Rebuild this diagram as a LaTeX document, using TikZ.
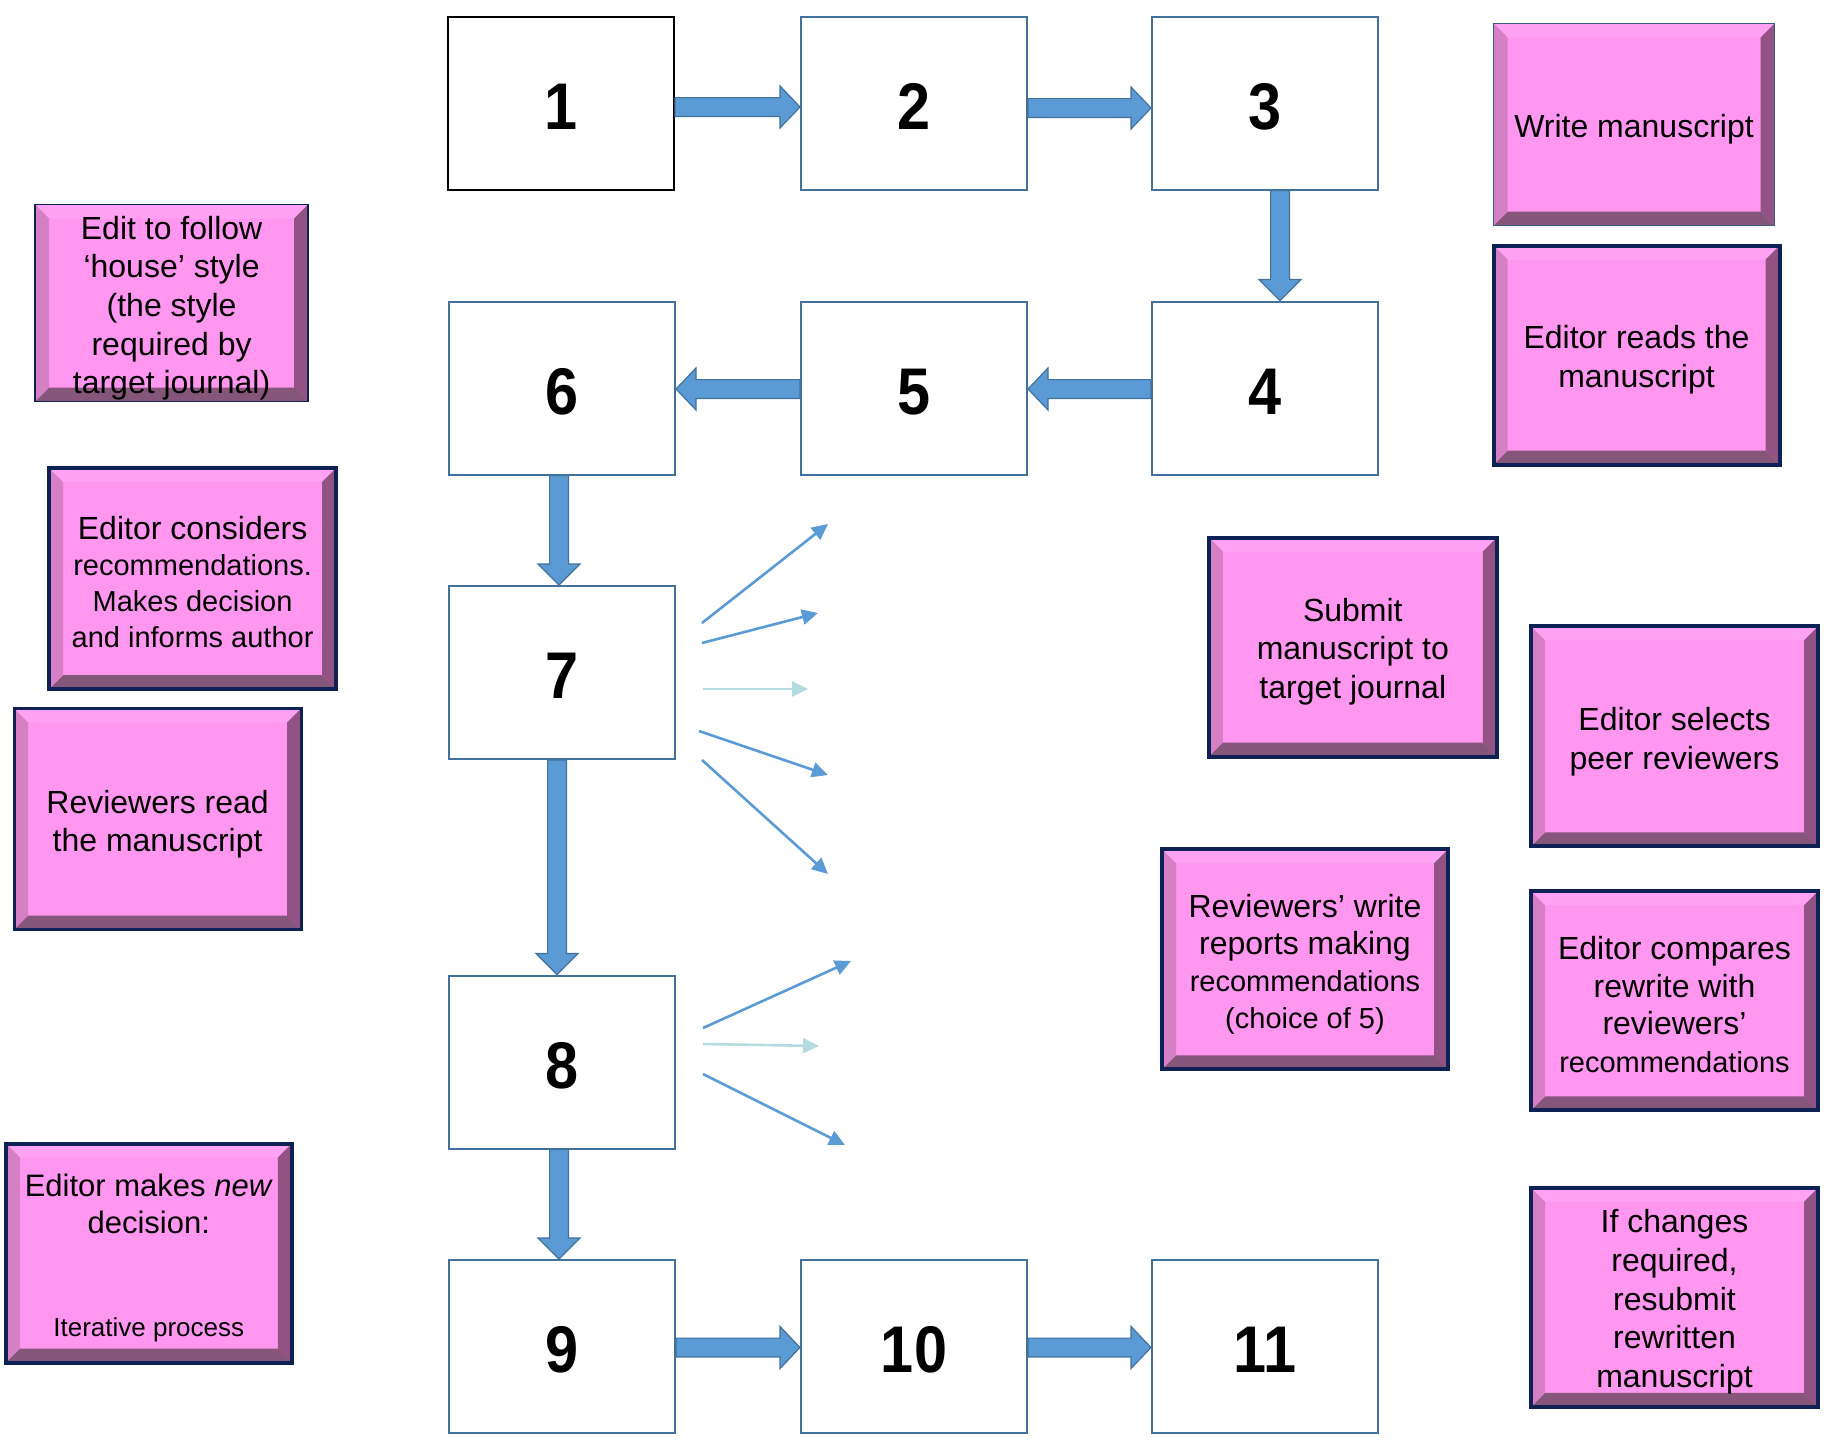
\documentclass[tikz,border=0pt]{standalone}
\usepackage{fontspec}
\setmainfont{Liberation Sans}
\newfontfamily\digitfont{Liberation Sans}[FakeStretch=0.9]
\usetikzlibrary{arrows.meta,calc}

% palette
\definecolor{stepedge}{HTML}{41719C}
\definecolor{flowfill}{HTML}{5B9BD5}
\definecolor{flowedge}{HTML}{41719C}
\definecolor{paleflow}{HTML}{B4DCE0}
\definecolor{pinkface}{HTML}{FF96F0}
\definecolor{pinktop}{HTML}{FFA2F3}
\definecolor{pinkleft}{HTML}{D57FC4}
\definecolor{pinkright}{HTML}{935284}
\definecolor{pinkbottom}{HTML}{86557A}
\definecolor{navyrim}{HTML}{0E2154}
\definecolor{greyrim}{HTML}{3C5A88}

% a larger line inside a smaller-type card
\newcommand\Lline[1]{{\fontsize{16}{19}\selectfont #1}}

% block arrows between numbered steps (from, to, offset in px)
\newcommand\flowright[3]{%
  \path[flow] let \p1=($(#1.east)+(0,#3)$), \p2=(#2.west) in
    (\x1,\y1+4.7pt) -- (\x2-10pt,\y1+4.7pt) -- (\x2-10pt,\y1+10.5pt) -- (\x2,\y1)
    -- (\x2-10pt,\y1-10.5pt) -- (\x2-10pt,\y1-4.7pt) -- (\x1,\y1-4.7pt) -- cycle;}
\newcommand\flowleft[3]{%
  \path[flow] let \p1=($(#1.west)+(0,#3)$), \p2=(#2.east) in
    (\x1,\y1+4.7pt) -- (\x2+10pt,\y1+4.7pt) -- (\x2+10pt,\y1+10.5pt) -- (\x2,\y1)
    -- (\x2+10pt,\y1-10.5pt) -- (\x2+10pt,\y1-4.7pt) -- (\x1,\y1-4.7pt) -- cycle;}
\newcommand\flowdown[3]{%
  \path[flow] let \p1=($(#1.south)+(#3,0)$), \p2=(#2.north) in
    (\x1-4.7pt,\y1) -- (\x1-4.7pt,\y2+10.5pt) -- (\x1-10.5pt,\y2+10.5pt) -- (\x1,\y2)
    -- (\x1+10.5pt,\y2+10.5pt) -- (\x1+4.7pt,\y2+10.5pt) -- (\x1+4.7pt,\y1) -- cycle;}

\tikzset{
  stepbox/.style={draw=stepedge, line width=1pt, fill=white,
    minimum width=113pt, minimum height=86.5pt, inner sep=0pt,
    text height=26pt, text depth=0pt,
    font=\digitfont\fontsize{33}{36}\selectfont\bfseries},
  flow/.style={fill=flowfill, draw=flowedge, line width=0.6pt},
  fan/.style={draw=flowfill, line width=1.3pt, -{Triangle[length=8pt,width=7.5pt]}},
  palefan/.style={fan, draw=paleflow},
  bevelled/.style={path picture={
    \coordinate (q1) at (path picture bounding box.north west);
    \coordinate (q2) at (path picture bounding box.north east);
    \coordinate (q3) at (path picture bounding box.south east);
    \coordinate (q4) at (path picture bounding box.south west);
    \coordinate (i1) at ([xshift=7pt,yshift=-7pt]q1);
    \coordinate (i2) at ([xshift=-7pt,yshift=-7pt]q2);
    \coordinate (i3) at ([xshift=-7pt,yshift=7pt]q3);
    \coordinate (i4) at ([xshift=7pt,yshift=7pt]q4);
    \fill[pinktop] (q1) -- (q2) -- (i2) -- (i1) -- cycle;
    \fill[pinkright] (q2) -- (q3) -- (i3) -- (i2) -- cycle;
    \fill[pinkbottom] (q3) -- (q4) -- (i4) -- (i3) -- cycle;
    \fill[pinkleft] (q4) -- (q1) -- (i1) -- (i4) -- cycle;
  }},
  card/.style n args={3}{rectangle, bevelled, fill=pinkface, draw=navyrim,
    line width=#3, minimum width=#1*0.5pt, minimum height=#2*0.5pt,
    inner sep=0pt},
  cardtext/.style={align=center, text=black, inner sep=0pt,
    font=\fontsize{16}{19.3}\selectfont},
}

\begin{document}
\begin{tikzpicture}[x=0.5pt,y=-0.5pt]
\useasboundingbox (0,0) rectangle (1831,1440);

% numbered steps
\node[stepbox, draw=black] (s1) at (561,103) {1};
\node[stepbox] (s2) at (914,103) {2};
\node[stepbox] (s3) at (1265,103) {3};
\node[stepbox] (s4) at (1265,388) {4};
\node[stepbox] (s5) at (914,388) {5};
\node[stepbox] (s6) at (562,388) {6};
\node[stepbox] (s7) at (562,672.5) {7};
\node[stepbox] (s8) at (562,1062) {8};
\node[stepbox] (s9) at (562,1346.5) {9};
\node[stepbox] (s10) at (914,1346.5) {10};
\node[stepbox] (s11) at (1265,1346.5) {11};

% block arrows
\flowright{s1}{s2}{4}
\flowright{s2}{s3}{5}
\flowdown{s3}{s4}{15}
\flowleft{s4}{s5}{1}
\flowleft{s5}{s6}{1}
\flowdown{s6}{s7}{-3}
\flowdown{s7}{s8}{-5}
\flowdown{s8}{s9}{-3}
\flowright{s9}{s10}{1}
\flowright{s10}{s11}{1}

% fan of reviewer recommendations from step 7
\coordinate (r1s) at (702,623);  \coordinate (r1e) at (828,524);
\coordinate (r2s) at (702,643);  \coordinate (r2e) at (818,613);
\coordinate (r3s) at (703,689);  \coordinate (r3e) at (808,689);
\coordinate (r4s) at (699,731);  \coordinate (r4e) at (828,775);
\coordinate (r5s) at (702,760);  \coordinate (r5e) at (828,874);
\draw[fan] (r1s) -- (r1e);
\draw[fan] (r2s) -- (r2e);
\draw[palefan] (r3s) -- (r3e);
\draw[fan] (r4s) -- (r4e);
\draw[fan] (r5s) -- (r5e);

% fan of outcomes from step 8
\coordinate (d1s) at (703,1028); \coordinate (d1e) at (851,961);
\coordinate (d2s) at (703,1044); \coordinate (d2e) at (819,1046);
\coordinate (d3s) at (703,1074); \coordinate (d3e) at (845,1145);
\draw[fan] (d1s) -- (d1e);
\draw[palefan] (d2s) -- (d2e);
\draw[fan] (d3s) -- (d3e);

% bevelled step descriptions: the card, then its wording set a little low
\node[card={281}{202}{0.8pt}, draw=greyrim] (write) at (1634,124.5) {};
\node[cardtext] (write-t) at ([yshift=-2.6pt]write.center) {Write manuscript};

\node[card={286}{219}{2pt}] (reads) at (1636.5,355) {};
\node[cardtext] (reads-t) at ([yshift=-2.3pt]reads.center) {Editor reads the\\manuscript};

\node[card={273}{197}{0.9pt}] (house) at (171.6,303) {};
\node[cardtext] (house-t) at ([yshift=-2.6pt]house.center)
  {Edit to follow\\‘house’ style\\(the style\\required by\\target journal)};

\node[card={287}{221}{2pt}] (considers) at (192.6,578.6) {};
\node[cardtext, font=\fontsize{14.5}{17.9}\selectfont] (considers-t) at ([yshift=-1.8pt]considers.center)
  {\Lline{Editor considers}\\recommendations.\\Makes decision\\and informs author};

\node[card={287}{221}{1.6pt}] (revread) at (157.6,819) {};
\node[cardtext] (revread-t) at ([yshift=-2.6pt]revread.center) {Reviewers read\\the manuscript};

\node[card={286}{219}{2pt}] (newdec) at (148.8,1253) {};
\node[cardtext, font=\fontsize{15.5}{18.5}\selectfont] (newdec-t) at ([yshift=-2.6pt]newdec.center)
  {Editor makes \textit{new}\\decision:\\[33pt]{\fontsize{13}{16}\selectfont Iterative process}};

\node[card={288}{219}{2pt}] (submit) at (1352.8,647) {};
\node[cardtext] (submit-t) at ([yshift=-2.3pt]submit.center) {Submit\\manuscript to\\target journal};

\node[card={286}{220}{2pt}] (reports) at (1305,959.3) {};
\node[cardtext, font=\fontsize{14.5}{18.5}\selectfont] (reports-t) at ([yshift=-2.6pt]reports.center)
  {\Lline{Reviewers’ write}\\\Lline{reports making}\\recommendations\\(choice of 5)};

\node[card={287}{220}{2pt}] (selects) at (1674.5,736.3) {};
\node[cardtext] (selects-t) at ([yshift=-2.6pt]selects.center) {Editor selects\\peer reviewers};

\node[card={287}{219}{2pt}] (compares) at (1674.5,1000.8) {};
\node[cardtext, font=\fontsize{16}{18.8}\selectfont] (compares-t) at ([yshift=-1.8pt]compares.center)
  {Editor compares\\rewrite with\\reviewers’\\{\fontsize{14.5}{17}\selectfont recommendations}};

\node[card={287}{219}{2pt}] (resubmit) at (1674.5,1297.3) {};
\node[cardtext] (resubmit-t) at ([yshift=-2.3pt]resubmit.center)
  {If changes\\required,\\resubmit\\rewritten\\manuscript};
\end{tikzpicture}
\end{document}
